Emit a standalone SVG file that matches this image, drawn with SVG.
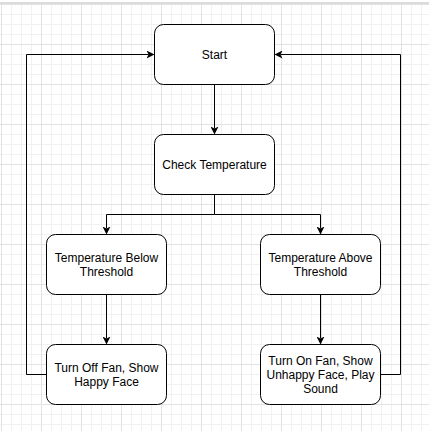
<svg xmlns="http://www.w3.org/2000/svg" width="429" height="431" viewBox="0 0 429 431">
<defs>
<pattern id="minor" x="1" y="4" width="10" height="10" patternUnits="userSpaceOnUse">
<path d="M0.5,0 V10 M0,0.5 H10" fill="none" stroke="#f1f1f1" stroke-width="1"/>
</pattern>
<pattern id="major" x="1" y="4" width="40" height="40" patternUnits="userSpaceOnUse">
<path d="M0.5,0 V40 M0,0.5 H40" fill="none" stroke="#e2e2e2" stroke-width="1"/>
</pattern>
<marker id="arr" markerUnits="userSpaceOnUse" markerWidth="8" markerHeight="8" viewBox="0 0 8 8" refX="2" refY="4" orient="auto">
<path d="M0,0 L8,4 L0,8 L2,4 Z" fill="#000"/>
</marker>
</defs>
<style>
.box{fill:#fff;stroke:#000;stroke-width:1}
.lbl{font-family:"Liberation Sans",Arial,sans-serif;font-size:12px;fill:#000;text-anchor:middle}
.edge{fill:none;stroke:#000;stroke-width:1}
</style>
<rect x="0" y="0" width="429" height="431" fill="#fff"/>
<rect x="0" y="4" width="429" height="427" fill="url(#minor)"/>
<rect x="0" y="4" width="429" height="427" fill="url(#major)"/>
<rect x="0" y="2" width="429" height="2" fill="#dcdcdc"/>
<g id="connectors">
<path class="edge" d="M214.5,84.5 V128.5" marker-end="url(#arr)"/>
<path class="edge" d="M214.5,194.5 V214.5 H106.5 V228.5" marker-end="url(#arr)"/>
<path class="edge" d="M214.5,214.5 H320.5 V228.5" marker-end="url(#arr)"/>
<path class="edge" d="M106.5,294.5 V338.5" marker-end="url(#arr)"/>
<path class="edge" d="M320.5,294.5 V338.5" marker-end="url(#arr)"/>
<path class="edge" d="M46.5,374.5 H26.5 V54.5 H148.5" marker-end="url(#arr)"/>
<path class="edge" d="M380.5,374.5 H400.5 V54.5 H280.5" marker-end="url(#arr)"/>
</g>
<g id="start">
<rect class="box" x="154.5" y="24.5" width="120" height="60" rx="9"/>
<text class="lbl" x="214.5" y="58.5">Start</text>
</g>
<g id="check">
<rect class="box" x="154.5" y="134.5" width="120" height="60" rx="9"/>
<text class="lbl" x="214.5" y="168.5">Check Temperature</text>
</g>
<g id="below">
<rect class="box" x="46.5" y="234.5" width="120" height="60" rx="9"/>
<text class="lbl" x="106.5" y="262">Temperature Below</text>
<text class="lbl" x="106.5" y="276">Threshold</text>
</g>
<g id="above">
<rect class="box" x="260.5" y="234.5" width="120" height="60" rx="9"/>
<text class="lbl" x="320.5" y="262">Temperature Above</text>
<text class="lbl" x="320.5" y="276">Threshold</text>
</g>
<g id="fanoff">
<rect class="box" x="46.5" y="344.5" width="120" height="60" rx="9"/>
<text class="lbl" x="106.5" y="372">Turn Off Fan, Show</text>
<text class="lbl" x="106.5" y="386">Happy Face</text>
</g>
<g id="fanon">
<rect class="box" x="260.5" y="344.5" width="120" height="60" rx="9"/>
<text class="lbl" x="320.5" y="365">Turn On Fan, Show</text>
<text class="lbl" x="320.5" y="379">Unhappy Face, Play</text>
<text class="lbl" x="320.5" y="393">Sound</text>
</g>
</svg>
